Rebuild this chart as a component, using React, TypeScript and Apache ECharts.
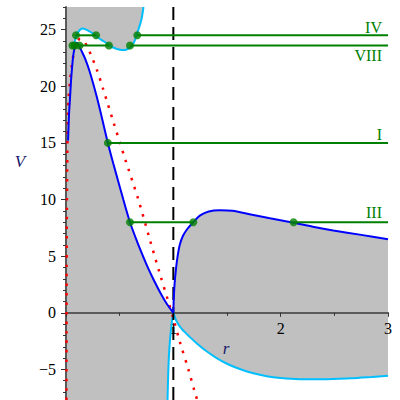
import React, { useEffect, useRef } from "react";
import * as echarts from "echarts";

const X_MIN = 0;
const X_MAX = 3;
const Y_MIN = -7.7;
const Y_MAX = 27;

const xTickLabels = [1, 2, 3];
const yTickLabels = [-5, 0, 5, 10, 15, 20, 25];
const yMinorTicks = [-7, -6, -4, -3, -2, -1, 1, 2, 3, 4, 6, 7, 8, 9, 11, 12, 13, 14, 16, 17, 18, 19, 21, 22, 23, 24, 26, 27];

// blue potential, left branch (r < 1)
const blueLeft = [
  [0.019, 15.2], [0.028, 17.5], [0.037, 18.9], [0.047, 20.5], [0.056, 21.6], [0.066, 22.6],
  [0.078, 23.3], [0.09, 23.75], [0.1, 23.85], [0.115, 23.7], [0.146, 23.1], [0.18, 22.4],
  [0.224, 21.2], [0.286, 19.1], [0.33, 17.4], [0.39, 15.0], [0.44, 13.2], [0.487, 11.6],
  [0.534, 10.0], [0.596, 8.0], [0.65, 6.6], [0.7, 5.4], [0.76, 4.05], [0.82, 2.85],
  [0.88, 1.75], [0.94, 0.78], [1.0, 0],
];
const blueLeftPeakIndex = 8;

// blue potential, right branch (r > 1)
const blueRight = [
  [1.0, 0], [1.004, 1.2], [1.012, 2.6], [1.025, 3.9], [1.04, 5.0], [1.06, 6.0], [1.09, 6.8],
  [1.13, 7.4], [1.186, 8.0], [1.25, 8.6], [1.33, 8.95], [1.435, 9.05], [1.55, 9.0], [1.71, 8.7],
  [1.9, 8.35], [2.12, 7.95], [2.3, 7.6], [2.49, 7.27], [2.75, 6.88], [3.0, 6.5],
];

// cyan curve, upper part (top-left)
const cyanUpper = [
  [0.722, 27.0], [0.705, 26.0], [0.688, 25.4], [0.674, 25.0], [0.643, 24.1], [0.62, 23.65],
  [0.596, 23.4], [0.565, 23.25], [0.534, 23.2], [0.495, 23.25], [0.456, 23.36], [0.415, 23.55],
  [0.379, 23.8], [0.33, 24.1], [0.286, 24.4], [0.245, 24.7], [0.208, 24.9], [0.177, 25.05],
  [0.155, 25.1], [0.132, 25.0], [0.115, 24.8], [0.1, 24.55], [0.088, 24.2], [0.078, 23.85],
];

// cyan curve, lower right part
const cyanLowerRight = [
  [1.0, 0], [1.03, -0.75], [1.08, -1.45], [1.155, -2.15], [1.23, -2.8], [1.31, -3.4],
  [1.4, -3.98], [1.5, -4.5], [1.6, -4.9], [1.71, -5.25], [1.87, -5.6], [2.0, -5.76],
  [2.18, -5.86], [2.4, -5.87], [2.65, -5.78], [2.85, -5.66], [3.0, -5.56],
];

// cyan curve, near-vertical part just left of r = 1
const cyanNearOne = [
  [1.0, 0], [0.985, -0.9], [0.969, -2.4], [0.958, -4.0], [0.951, -5.8], [0.946, -7.7],
];

// red dotted curve
const redDotted = [
  [0.004, -7.7], [0.005, -2], [0.006, 4], [0.008, 9], [0.011, 13], [0.015, 16],
  [0.022, 18.7], [0.037, 20.4], [0.053, 21.8], [0.08, 23.3], [0.105, 23.95], [0.132, 24.2],
  [0.155, 24.1], [0.177, 23.85], [0.208, 23.3], [0.24, 22.6], [0.286, 21.5], [0.348, 19.7],
  [0.44, 16.9], [0.55, 13.6], [0.674, 10.0], [0.78, 6.5], [0.876, 3.4], [0.953, 1.0],
  [1.0, -0.5], [1.062, -2.6], [1.14, -5.0], [1.2, -7.0], [1.222, -7.7],
];

const asymptoteX = 1;

// energy levels
const levelNames = ["IV", "VIII", "I", "III"];
const levelValues = [24.5, 23.6, 15, 8];
const levelSegments = [
  [[0.093, 0.28], [0.664, 3]],
  [[0.06, 0.4], [0.596, 3]],
  [[0.39, 3]],
  [[0.596, 1.186], [2.12, 3]],
];
const levelDots = [
  [0.093, 0.28, 0.664],
  [0.06, 0.08, 0.125, 0.4, 0.596],
  [0.39],
  [0.596, 1.186, 2.12],
];

const GREEN = "#008000";
const BLUE = "#0000ff";
const CYAN = "#00bfff";
const RED = "#ff0000";
const GRAY = "#c0c0c0";
const AXIS = "#5a5a5a";
const SERIF = "'Liberation Serif', 'Times New Roman', serif";

const GRID_TOP = 7;
const GRID_HEIGHT = 393;

export default function App() {
  const ref = useRef<HTMLDivElement>(null);

  useEffect(() => {
    if (!ref.current) return;
    const chart = echarts.init(ref.current, undefined, { renderer: "svg" });

    const polyLeft = [
      [X_MIN, Y_MIN],
      [X_MIN, Y_MAX],
      ...cyanUpper,
      ...blueLeft.slice(blueLeftPeakIndex),
      ...cyanNearOne.slice(1),
    ];
    const polyRight = [
      ...blueRight,
      ...cyanLowerRight.slice().reverse().slice(0, -1),
    ];
    const polygons = [polyLeft, polyRight];

    // distance from the grid bottom up to y = 0, so the x axis sits on the zero line
    const zeroOffset = -(GRID_HEIGHT * (0 - Y_MIN)) / (Y_MAX - Y_MIN);

    const curve = (data: number[][], color: string, z = 4) => ({
      type: "line",
      data,
      smooth: 0.3,
      showSymbol: false,
      symbol: "none",
      z,
      lineStyle: { color, width: 2 },
      silent: true,
    });

    const levelLineSeries: any[] = [];
    const levelDotSeries: any[] = [];
    levelValues.forEach((v, i) => {
      levelSegments[i].forEach((seg) => {
        levelLineSeries.push({
          type: "line",
          data: [[seg[0], v], [seg[1], v]],
          showSymbol: false,
          symbol: "none",
          z: 6,
          lineStyle: { color: GREEN, width: 2 },
          silent: true,
        });
      });
      levelDotSeries.push({
        type: "scatter",
        data: levelDots[i].map((x) => [x, v]),
        symbolSize: 8,
        itemStyle: { color: GREEN },
        z: 7,
        silent: true,
      });
    });

    const labelY = [27, 55.5, 134, 212];

    chart.setOption({
      animation: false,
      grid: {
        left: 66,
        right: 12,
        top: GRID_TOP,
        height: GRID_HEIGHT,
        containLabel: false,
        outerBoundsMode: "none",
      },
      xAxis: {
        type: "value",
        min: X_MIN,
        max: X_MAX,
        interval: 1,
        z: 3,
        position: "bottom",
        offset: zeroOffset,
        axisLine: { show: true, onZero: false, lineStyle: { color: AXIS, width: 2 } },
        axisTick: { show: true, length: 4, lineStyle: { color: "#333", width: 1 } },
        minorTick: { show: true, splitNumber: 2, length: 3, lineStyle: { color: "#333", width: 1 } },
        axisLabel: {
          customValues: xTickLabels,
          margin: 8,
          color: "#000",
          fontFamily: SERIF,
          fontSize: 16,
        },
        splitLine: { show: false },
        minorSplitLine: { show: false },
      },
      yAxis: [
        {
          type: "value",
          min: Y_MIN,
          max: Y_MAX,
          z: 3,
          axisLine: { show: true, onZero: false, lineStyle: { color: AXIS, width: 2 } },
          axisTick: { show: true, customValues: yTickLabels, length: 5, lineStyle: { color: "#333", width: 1 } },
          axisLabel: {
            customValues: yTickLabels,
            margin: 10,
            color: "#000",
            fontFamily: SERIF,
            fontSize: 16,
            formatter: (v: number) => (v < 0 ? "\u2212" + Math.abs(v) : String(v)),
          },
          splitLine: { show: false },
        },
        {
          type: "value",
          min: Y_MIN,
          max: Y_MAX,
          position: "left",
          z: 3,
          axisLine: { show: false },
          axisTick: { show: true, customValues: yMinorTicks, length: 3, lineStyle: { color: "#333", width: 1 } },
          axisLabel: { show: false },
          splitLine: { show: false },
        },
      ],
      series: [
        {
          type: "custom",
          z: 1,
          silent: true,
          data: polygons.map((_, i) => [i]),
          renderItem: (params: any, api: any) => {
            const idx = api.value(0);
            const pts = polygons[idx].map((p) => api.coord(p));
            return {
              type: "polygon",
              shape: { points: pts },
              style: { fill: GRAY, stroke: "none" },
            };
          },
        },
        {
          type: "line",
          data: [[asymptoteX, Y_MIN], [asymptoteX, Y_MAX]],
          showSymbol: false,
          symbol: "none",
          z: 5,
          lineStyle: { color: "#000", width: 2, type: [13, 7] },
          silent: true,
        },
        curve(cyanUpper, CYAN),
        curve(cyanLowerRight, CYAN),
        curve(cyanNearOne, CYAN),
        {
          type: "line",
          data: redDotted,
          smooth: 0.3,
          showSymbol: false,
          symbol: "none",
          z: 4,
          lineStyle: { color: RED, width: 2.5, type: [2.5, 7] },
          silent: true,
        },
        curve(blueLeft, BLUE, 5),
        curve(blueRight, BLUE, 5),
        ...levelLineSeries,
        ...levelDotSeries,
      ],
      graphic: [
        ...levelNames.map((name, i) => ({
          type: "text",
          x: 382,
          y: labelY[i],
          z: 10,
          style: {
            text: name,
            fill: GREEN,
            font: "16px " + SERIF,
            textAlign: "right",
            textVerticalAlign: "middle",
          },
        })),
        {
          type: "text",
          x: 20,
          y: 161,
          z: 10,
          style: {
            text: "V",
            fill: "#1a1a6e",
            font: "italic 17px " + SERIF,
            textAlign: "center",
            textVerticalAlign: "middle",
          },
        },
        {
          type: "text",
          x: 226,
          y: 348,
          z: 10,
          style: {
            text: "r",
            fill: "#1a1a6e",
            font: "italic 17px " + SERIF,
            textAlign: "center",
            textVerticalAlign: "middle",
          },
        },
      ],
    });

    return () => chart.dispose();
  }, []);

  return (
    <div
      ref={ref}
      style={{ position: "fixed", left: 0, top: 0, width: 400, height: 400, background: "#fff" }}
    />
  );
}
